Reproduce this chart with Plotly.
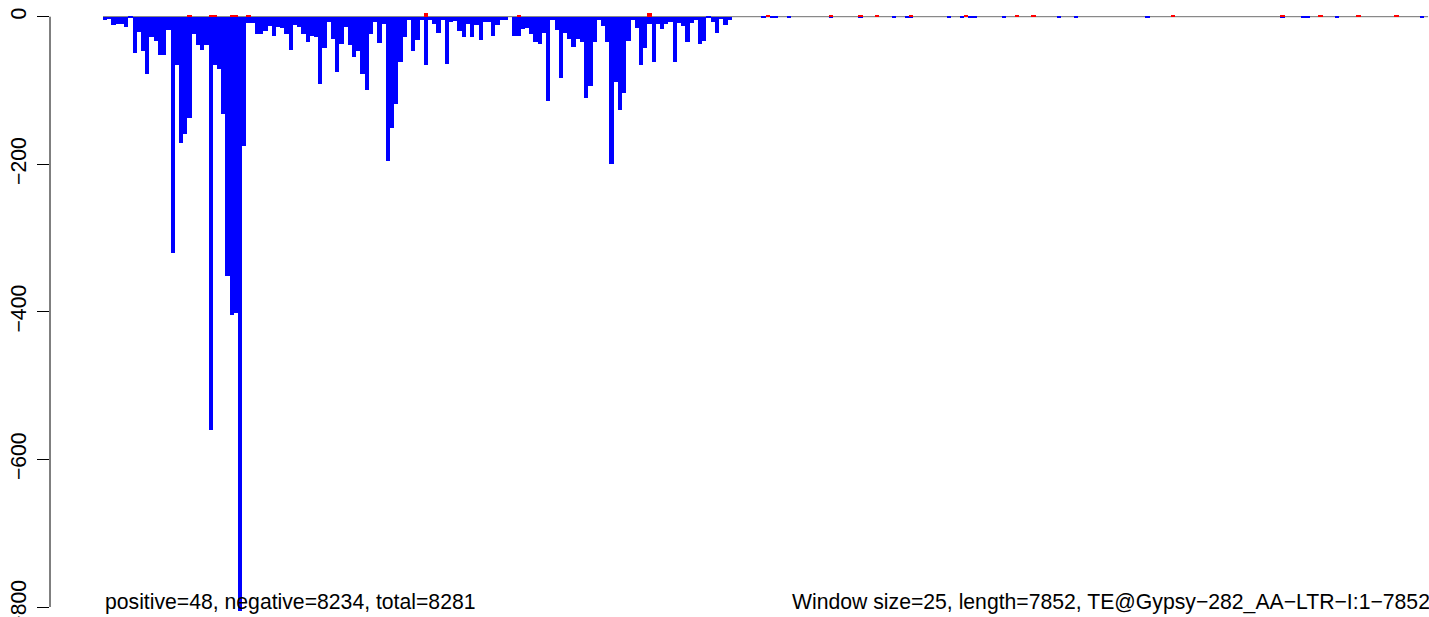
import plotly.graph_objects as go

# Window index (window size = 25 bp, length 7852 -> 314 windows)
n_windows = 314
windows = list(range(n_windows))

# Negative-strand counts for the first 149 windows
negative_head = [
    -4, -3, -11, -10, -10, -14, -2, -49, -21, -47,
    -77, -27, -33, -52, -52, -18, -320, -66, -171, -159,
    -137, -23, -38, -45, -39, -560, -66, -71, -132, -351,
    -404, -401, -806, -175, -9, -8, -24, -24, -19, -13,
    -26, -14, -15, -23, -45, -11, -14, -24, -34, -26,
    -27, -91, -43, -7, -30, -75, -37, -14, -38, -54,
    -46, -77, -100, -23, -7, -35, -10, -195, -151, -118,
    -62, -27, -5, -47, -31, -5, -65, -5, -10, -22,
    -5, -64, -7, -6, -19, -27, -10, -27, -11, -31,
    -7, -7, -26, -11, -5, -5, 0, -26, -26, -16,
    -15, -24, -34, -37, -22, -114, -5, -18, -83, -22,
    -30, -41, -30, -34, -110, -94, -34, -4, -12, -34,
    -199, -88, -127, -104, -33, -5, -15, -66, -42, -10,
    -61, -10, -16, -10, -7, -61, -8, -12, -34, -8,
    -5, -37, -33, -2, -7, -22, -3, -11, -5,
]
# Sparse tiny negative counts further along
negative_tail_bins = [156, 158, 159, 162, 172, 179, 187, 190, 191, 200, 203,
                      205, 206, 213, 226, 230, 247, 279, 284, 285, 292, 312]
negative_tail_vals = [-1] * len(negative_tail_bins)

# Positive-strand counts
positive_bins = [20, 25, 26, 30, 31, 34, 76, 98, 129,
                 157, 172, 179, 183, 191, 204, 216, 220, 253, 279, 288, 297, 306]
positive_vals = [1, 2, 2, 2, 2, 1, 5, 1, 5,
                 1, 1, 1, 1, 1, 1, 1, 1, 1, 1, 1, 1, 1]

y_ticks = [0, -200, -400, -600, -800]
left_label = "positive=48, negative=8234, total=8281"
right_label = "Window size=25, length=7852, TE@Gypsy\u2212282_AA\u2212LTR\u2212I:1\u22127852"

negative = [0] * n_windows
for i, v in enumerate(negative_head):
    negative[i] = v
for b, v in zip(negative_tail_bins, negative_tail_vals):
    negative[b] = v
positive = [0] * n_windows
for b, v in zip(positive_bins, positive_vals):
    positive[b] = v

W, H = 1429, 617
left_px = 50
font = "Liberation Sans, Arial, Helvetica, sans-serif"
fsize = 21.2

fig = go.Figure()
fig.add_trace(go.Bar(x=windows, y=negative, marker=dict(color="#0000FF", line=dict(width=0)),
                     width=1.0, hoverinfo="x+y"))
fig.add_trace(go.Bar(x=windows, y=positive, marker=dict(color="#FF0000", line=dict(width=0)),
                     width=1.0, hoverinfo="x+y"))

# zero line under the bars
fig.add_shape(type="line", xref="x", yref="y", x0=-0.5, x1=n_windows - 0.5, y0=0, y1=0,
              line=dict(color="#6E6E6E", width=1), layer="below")
# y axis line (only between first and last tick)
fig.add_shape(type="line", xref="paper", yref="y", x0=0, x1=0, y0=0, y1=-800,
              line=dict(color="black", width=1))

fig.add_annotation(text=left_label, xref="paper", yref="paper",
                   x=(103 - left_px) / (W - left_px), y=1 - 602 / H,
                   xanchor="left", yanchor="middle", showarrow=False,
                   font=dict(family=font, size=fsize, color="black"))
fig.add_annotation(text=right_label, xref="paper", yref="paper",
                   x=(790 - left_px) / (W - left_px), y=1 - 602 / H,
                   xanchor="left", yanchor="middle", showarrow=False,
                   font=dict(family=font, size=fsize, color="black"))

px_per_bar = 4.22
x0 = -0.5 - (103 - left_px) / px_per_bar
x1 = x0 + (W - left_px) / px_per_bar
px_per_unit = (607 - 16.7) / 800
y_top = 16.7 / px_per_unit
y_bot = -800 - (H - 607) / px_per_unit

fig.update_layout(
    width=W, height=H,
    margin=dict(l=left_px, r=0, t=0, b=0, autoexpand=False),
    paper_bgcolor="white", plot_bgcolor="white",
    barmode="overlay", bargap=0,
    showlegend=False,
    xaxis=dict(range=[x0, x1], visible=False, fixedrange=True, automargin=False),
    yaxis=dict(range=[y_bot, y_top], tickvals=y_ticks, ticks="outside", ticklen=12,
               tickwidth=1, tickcolor="black", showline=False, showgrid=False,
               zeroline=False, tickangle=-90, ticklabelstandoff=3,
               ticklabeloverflow="allow", automargin=False,
               tickfont=dict(family=font, size=fsize, color="black")),
)

fig.write_html("out.html", config={"displayModeBar": False},
               post_script="document.body.style.margin='0';document.body.style.overflow='hidden';")
